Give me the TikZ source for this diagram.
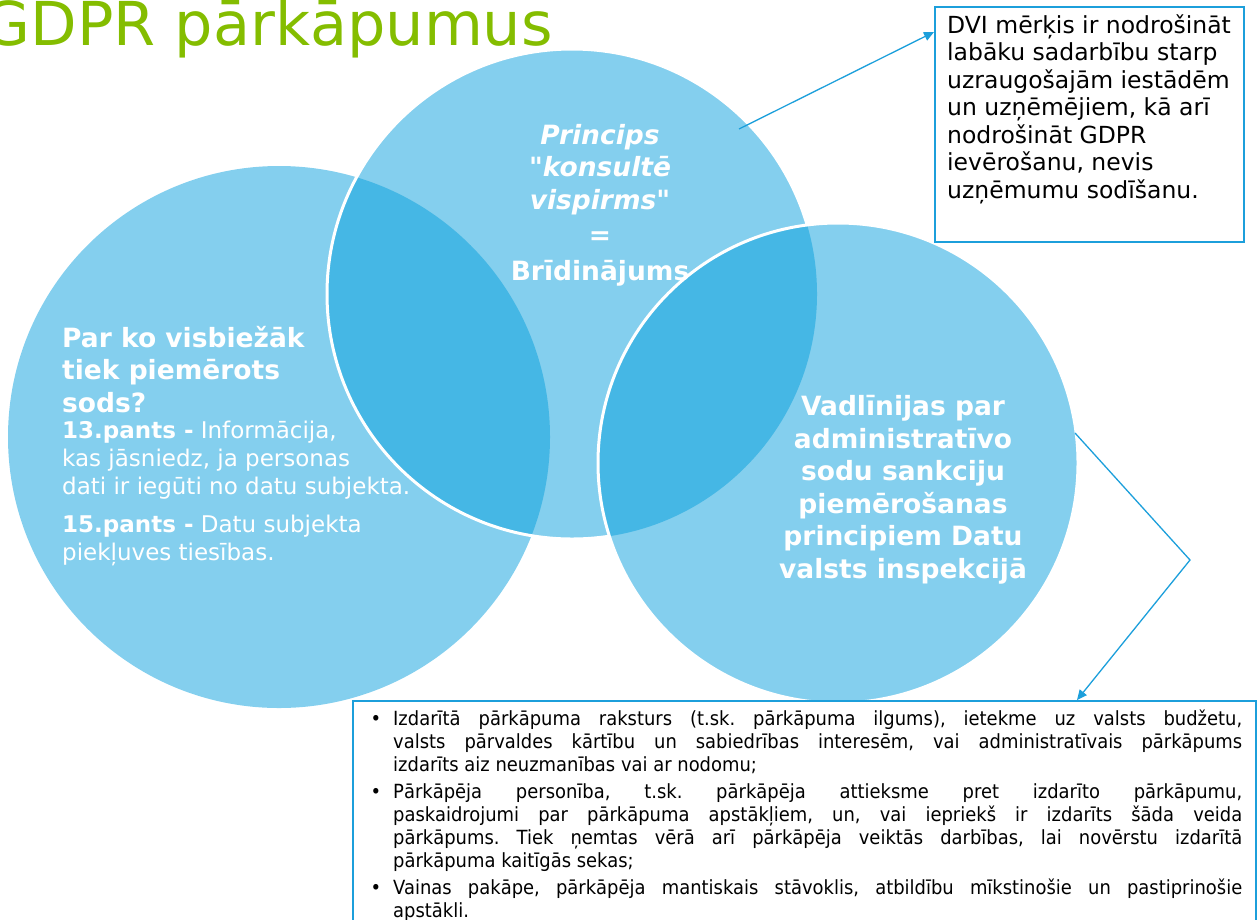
\documentclass[tikz,border=0pt]{standalone}
\usepackage{fontspec}
\setmainfont{DejaVu Sans}
\newfontfamily\critfont[FakeStretch=0.92]{DejaVu Sans}
\usetikzlibrary{arrows.meta}

\definecolor{circlefill}{HTML}{84CFEE}
\definecolor{lensfill}{HTML}{45B7E5}
\definecolor{linkblue}{HTML}{1C9FDB}
\definecolor{titlegreen}{HTML}{84BD00}

\newcommand{\crititem}{\leavevmode\llap{\textbullet\hspace{12pt}}}

\begin{document}
\begin{tikzpicture}[x=1pt, y=-1pt,
    circletext/.style={text=white, inner sep=0pt, font=\bfseries\fontsize{26.5}{32.5}\selectfont},
    bodytext/.style={text=white, inner sep=0pt, align=left, font=\fontsize{23}{28}\selectfont},
    notebox/.style={draw=linkblue, line width=1.5pt, inner sep=0pt, anchor=north west},
    link/.style={linkblue, line width=1.3pt, -{Triangle[length=10pt, width=9pt]}}]
    \useasboundingbox (0,0) rectangle (1257,919);

    \node[anchor=base east, inner sep=0pt, text=titlegreen, font=\fontsize{60.5}{72}\selectfont] (title) at (553,45) {GDPR pārkāpumus};

    \fill[circlefill] (279,437) circle[radius=271pt];
    \fill[circlefill] (572,294) circle[radius=245pt];
    \begin{scope}
        \clip (279,437) circle[radius=271pt];
        \fill[lensfill] (572,294) circle[radius=245pt];
    \end{scope}
    \draw[white, line width=3pt] (572,294) circle[radius=245pt];
    \fill[circlefill] (838,463) circle[radius=240pt];
    \begin{scope}
        \clip (572,294) circle[radius=245pt];
        \fill[lensfill] (838,463) circle[radius=240pt];
    \end{scope}
    \draw[white, line width=3pt] (838,463) circle[radius=240pt];

    \node[circletext, align=left, anchor=base west] (sodshead) at (62,412) {Par ko visbiežāk\\tiek piemērots\\sods?};
    \node[bodytext, anchor=base west] (pants13) at (62,494) {\textbf{13.pants -} Informācija,\\kas jāsniedz, ja personas\\dati ir iegūti no datu subjekta.};
    \node[bodytext, anchor=base west] (pants15) at (62,560) {\textbf{15.pants -} Datu subjekta\\piekļuves tiesības.};

    \node[circletext, align=center, anchor=base] (princips) at (600,280) {\itshape Princips\\\itshape \textquotedbl konsultē\\\itshape vispirms\textquotedbl\\[3pt]=\\[3pt]Brīdinājums};
    \node[circletext, align=center, anchor=base] (vadlinijas) at (903,578) {Vadlīnijas par\\administratīvo\\sodu sankciju\\piemērošanas\\principiem Datu\\valsts inspekcijā};

    \node[notebox, minimum width=309pt, minimum height=235pt] (dvibox) at (934,6) {};
    \node[anchor=base west, inner sep=0pt, align=left, font=\fontsize{23.5}{27.5}\selectfont] (dvitext) at (947,198) {DVI mērķis ir nodrošināt\\labāku sadarbību starp\\uzraugošajām iestādēm\\un uzņēmējiem, kā arī\\nodrošināt GDPR\\ievērošanu, nevis\\uzņēmumu sodīšanu.};

    \node[notebox, minimum width=903pt, minimum height=260pt] (critbox) at (352,700) {};
    \node[anchor=north west, inner sep=0pt, text width=849pt, align=justify, font=\critfont\fontsize{19.5}{23}\selectfont] (crittext) at (393,710) {\parindent=0pt\parskip=4pt\frenchspacing
        \crititem Izdarītā pārkāpuma raksturs (t.sk. pārkāpuma ilgums), ietekme uz valsts budžetu,\linebreak valsts pārvaldes kārtību un sabiedrības interesēm, vai administratīvais pārkāpums\linebreak izdarīts aiz neuzmanības vai ar nodomu;\par
        \crititem Pārkāpēja personība, t.sk. pārkāpēja attieksme pret izdarīto pārkāpumu,\linebreak paskaidrojumi par pārkāpuma apstākļiem, un, vai iepriekš ir izdarīts šāda veida\linebreak pārkāpums. Tiek ņemtas vērā arī pārkāpēja veiktās darbības, lai novērstu izdarītā\linebreak pārkāpuma kaitīgās sekas;\par
        \crititem Vainas pakāpe, pārkāpēja mantiskais stāvoklis, atbildību mīkstinošie un pastiprinošie\linebreak apstākli.};

    \coordinate (princtail) at (739,129);
    \draw[link] (princtail) -- ([yshift=-26pt]dvibox.north west);
    \coordinate (vadltail) at (1075,433);
    \coordinate (vadlbend) at (1190,560);
    \draw[link] (vadltail) -- (vadlbend) -- ([xshift=725pt]critbox.north west);
\end{tikzpicture}
\end{document}
